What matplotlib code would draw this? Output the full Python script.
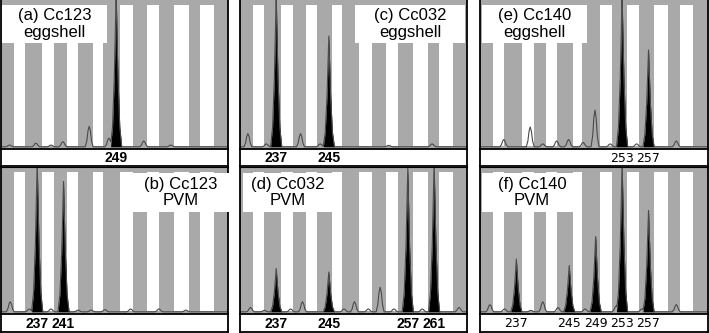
import numpy as np
import matplotlib
matplotlib.use("Agg")
import matplotlib.pyplot as plt
from matplotlib.patches import Rectangle

W, H = 709, 333

# allele bins (bp) -> grey stripes
bin_lo = [230.0, 235.2, 239.6, 243.2, 247.0, 251.5, 255.5, 260.0, 263.8]
bin_hi = [233.5, 237.8, 241.5, 245.5, 249.6, 253.7, 257.8, 261.8, 267.0]

# (a) Cc123 eggshell
a_called = [249]
a_called_h = [1.05]
a_minor = [232.8, 236.8, 239.1, 240.9, 244.9, 247.9, 253.2, 257.3]
a_minor_h = [0.012, 0.025, 0.012, 0.035, 0.14, 0.06, 0.04, 0.012]

# (b) Cc123 PVM
b_called = [237, 241]
b_called_h = [1.03, 0.90]
b_minor = [232.9, 235.8, 239.1, 243.2, 245.2, 247.3, 251.2, 255.5, 259.6]
b_minor_h = [0.07, 0.02, 0.02, 0.012, 0.012, 0.015, 0.02, 0.02, 0.012]

# (c) Cc032 eggshell
c_called = [237, 245]
c_called_h = [1.03, 0.755]
c_minor = [232.7, 235.5, 240.7, 243.7, 254.1, 260.7]
c_minor_h = [0.09, 0.02, 0.09, 0.02, 0.01, 0.02]

# (d) Cc032 PVM
d_called = [237, 245, 257, 261]
d_called_h = [0.30, 0.275, 0.99, 1.03]
d_minor = [233.1, 235.2, 239.2, 241.0, 247.3, 248.9, 251.0, 252.8, 254.9, 259.2, 264.8]
d_minor_h = [0.03, 0.01, 0.02, 0.07, 0.02, 0.07, 0.02, 0.17, 0.02, 0.02, 0.03]

# (e) Cc140 eggshell
e_called = [253, 257]
e_called_h = [1.03, 0.66]
e_minor = [235.1, 239.1, 241.0, 243.1, 244.9, 247.1, 248.9, 251.2, 255.2, 261.2]
e_minor_h = [0.05, 0.135, 0.02, 0.04, 0.05, 0.03, 0.25, 0.02, 0.02, 0.04]

# (f) Cc140 PVM
f_called = [237, 245, 249, 253, 257]
f_called_h = [0.365, 0.32, 0.52, 1.03, 0.70]
f_minor = [233.0, 235.2, 239.2, 241.0, 243.3, 247.4, 252.1, 256.0, 261.2]
f_minor_h = [0.05, 0.02, 0.01, 0.07, 0.03, 0.02, 0.04, 0.02, 0.05]

titles = ["(a) Cc123\neggshell", "(b) Cc123\nPVM",
          "(c) Cc032\neggshell", "(d) Cc032\nPVM",
          "(e) Cc140\neggshell", "(f) Cc140\nPVM"]

panels = [(a_called, a_called_h, a_minor, a_minor_h),
          (b_called, b_called_h, b_minor, b_minor_h),
          (c_called, c_called_h, c_minor, c_minor_h),
          (d_called, d_called_h, d_minor, d_minor_h),
          (e_called, e_called_h, e_minor, e_minor_h),
          (f_called, f_called_h, f_minor, f_minor_h)]

# layout in pixels
cols = [(1, 228), (240, 467), (480, 708)]
rows = [((0, 149), (149, 166)), ((167, 314), (314, 332))]
boxes = [(2, 5, 107, 43), (132, 173, 230, 212),
         (355, 5, 465, 43), (243, 173, 333, 212),
         (482, 5, 587, 43), (482, 173, 582, 212)]
XLIM = (231.5, 266.0)

# peak shapes (offset in bp, relative height)
big_off = np.array([-0.85, -0.55, -0.28, -0.1, 0, 0.1, 0.28, 0.55, 0.85])
big_rel = np.array([0, 0.13, 0.45, 0.8, 1, 0.8, 0.45, 0.13, 0])
small_off = np.array([-0.6, -0.35, -0.18, 0, 0.18, 0.35, 0.6])
small_rel = np.array([0, 0.3, 0.78, 1, 0.78, 0.3, 0])


def trace(called, called_h, minor, minor_h):
    xs = [np.array(XLIM)]
    for p in called:
        xs.append(p + big_off)
    for p in minor:
        xs.append(p + small_off)
    x = np.unique(np.concatenate(xs))
    y_called = np.zeros_like(x)
    for p, h in zip(called, called_h):
        y_called = np.maximum(y_called, np.interp(x, p + big_off, h * big_rel, left=0, right=0))
    y = y_called.copy()
    for p, h in zip(minor, minor_h):
        y = np.maximum(y, np.interp(x, p + small_off, h * small_rel, left=0, right=0))
    return x, y, y_called


def frac(x0, y0, x1, y1):
    return [x0 / W, 1 - y1 / H, (x1 - x0) / W, (y1 - y0) / H]


fig = plt.figure(figsize=(W / 100, H / 100), dpi=100)
grey = "#a9a9a9"

for i, (called, called_h, minor, minor_h) in enumerate(panels):
    ci, ri = i // 2, i % 2
    cx0, cx1 = cols[ci]
    (py0, py1), (sy0, sy1) = rows[ri]

    ax = fig.add_axes(frac(cx0, py0, cx1, py1))
    ax.set_facecolor(grey)
    for lo, hi in zip(bin_hi[:-1], bin_lo[1:]):
        ax.axvspan(lo, hi, ymin=0.02, ymax=0.965, color="white", lw=0)
    x, y, yc = trace(called, called_h, minor, minor_h)
    ax.fill_between(x, 0, yc, color="black", lw=0)
    ax.plot(x, y, color="#4a4a4a", lw=0.8)
    ax.set_xlim(*XLIM)
    ax.set_ylim(-0.015, 1.0)
    ax.set_xticks([])
    ax.set_yticks([])
    for s in ["left", "right"]:
        ax.spines[s].set_linewidth(1.3)
    ax.spines["top"].set_visible(ri == 1)
    ax.spines["bottom"].set_visible(False)

    sx = fig.add_axes(frac(cx0, sy0, cx1, sy1))
    sx.set_xlim(*XLIM)
    sx.set_ylim(0, 1)
    sx.set_xticks([])
    sx.set_yticks([])
    for s in sx.spines.values():
        s.set_linewidth(1.3)
    for p in called:
        if ci == 2:
            sx.text(p, 0.45, str(p), ha="center", va="center", fontsize=9,
                    family="DejaVu Sans")
        else:
            sx.text(p, 0.45, str(p), ha="center", va="center", fontsize=10,
                    family="Liberation Sans", weight="bold")

    bx0, by0, bx1, by1 = boxes[i]
    r = frac(bx0, by0, bx1, by1)
    fig.patches.append(Rectangle((r[0], r[1]), r[2], r[3], transform=fig.transFigure,
                                 facecolor="white", edgecolor="none", zorder=5))
    fig.text(r[0] + r[2] / 2, r[1] + r[3] / 2, titles[i], ha="center", va="center",
             fontsize=12, family="Liberation Sans", linespacing=1.1, zorder=6)

fig.savefig("out.png", dpi=100)
